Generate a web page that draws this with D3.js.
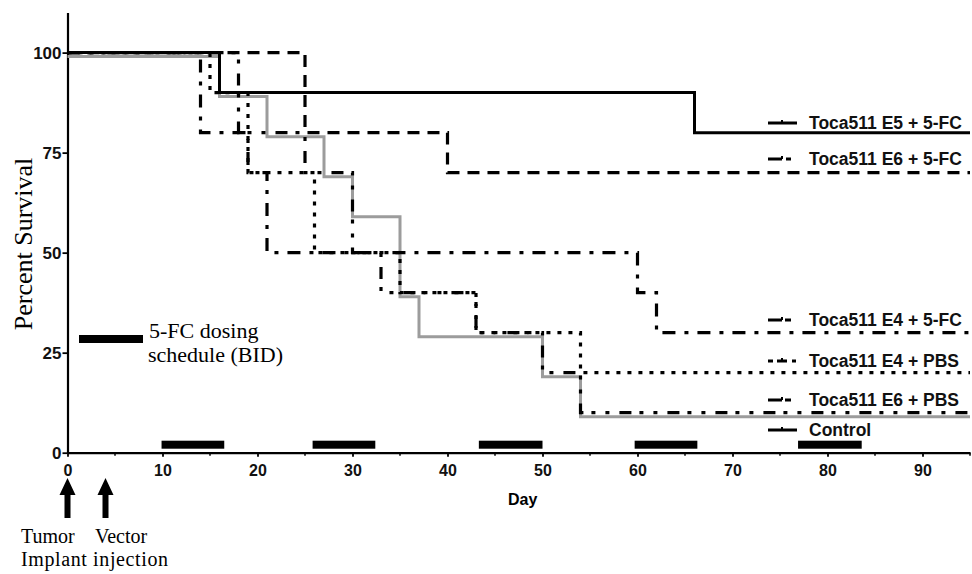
<!DOCTYPE html>
<html><head><meta charset="utf-8">
<script src="https://cdn.jsdelivr.net/npm/d3@7"></script>
<style>body{margin:0;background:#fff}svg{display:block}</style>
</head><body><svg id="c" width="972" height="574"></svg>
<script>
// ---- data ----
const seriesNames = ["Toca511 E5 + 5-FC","Toca511 E6 + 5-FC","Toca511 E4 + 5-FC","Toca511 E4 + PBS","Toca511 E6 + PBS","Control"];
const e5FcDays   = [0,16,66,95];
const e5FcVals   = [100,90,80,80];
const e6FcDays   = [0,25,40,95];
const e6FcVals   = [100,80,70,70];
const e4FcDays   = [0,14,19,21,60,62,95];
const e4FcVals   = [100,80,70,50,40,30,30];
const e4PbsDays  = [0,15,19,26,35,43,54,95];
const e4PbsVals  = [100,90,70,50,40,30,20,20];
const e6PbsDays  = [0,18,25,30,33,43,50,54,95];
const e6PbsVals  = [100,80,70,50,40,30,20,10,10];
const controlDays= [0,16,21,27,30,35,37,50,54,95];
const controlVals= [99,89,79,69,59,39,29,19,9,9];
const dosingStart = [9.9,25.8,43.3,59.7,76.9];
const dosingEnd   = [16.5,32.4,50,66.3,83.6];
const eventDays = [0,4];
const xTicks = [0,10,20,30,40,50,60,70,80,90];
const xMinorTicks = [5,15,25,35,45,55,65,75,85,95];
const yTicks = [0,25,50,75,100];

// ---- layout ----
const svg = d3.select("#c");
const x = d3.scaleLinear().domain([0,95]).range([67.5,970]);
const y = d3.scaleLinear().domain([0,110]).range([452.7,12.6]);
const sans = "'Liberation Sans', Arial, sans-serif";
const serif = "'Liberation Serif', 'Times New Roman', serif";

const styles = [
  {color:"#000", dash:null, w:3},
  {color:"#000", dash:"12,8", w:3.2},
  {color:"#000", dash:"13,9,4,9", w:3.2},
  {color:"#000", dash:"4,7", w:3.2},
  {color:"#000", dash:"12,8,4,10,4,10", w:3.2},
  {color:"#9c9c9c", dash:null, w:3}
];
const seriesDays = [e5FcDays,e6FcDays,e4FcDays,e4PbsDays,e6PbsDays,controlDays];
const seriesVals = [e5FcVals,e6FcVals,e4FcVals,e4PbsVals,e6PbsVals,controlVals];

// axes
const yAxis = d3.axisLeft(y).tickValues(yTicks).tickSize(5).tickSizeOuter(0).tickPadding(1);
const gy = svg.append("g").attr("transform","translate(67.5,0)").call(yAxis);
const xAxis = d3.axisBottom(x).tickValues(xTicks).tickSize(4).tickSizeOuter(0).tickPadding(8);
const gx = svg.append("g").attr("transform","translate(0,452.7)").call(xAxis);
gx.selectAll(".minor").data(xMinorTicks).enter().append("line")
  .attr("x1",d=>x(d)).attr("x2",d=>x(d)).attr("y1",0).attr("y2",3).attr("stroke","#000").attr("stroke-width",1.5);
[gx,gy].forEach(g=>{
  g.select(".domain").attr("stroke","#000").attr("stroke-width",2.2);
  g.selectAll(".tick line").attr("stroke","#000").attr("stroke-width",1.8);
  g.selectAll(".tick text").attr("font-family",sans).attr("font-weight","bold").attr("font-size",16).attr("fill","#111");
});
gy.selectAll(".tick text").attr("font-size",17);

// dosing bars
const barH = 8;
svg.append("g").selectAll("rect").data(dosingStart).enter().append("rect")
  .attr("x",(d)=>x(d)).attr("width",(d,i)=>x(dosingEnd[i])-x(d))
  .attr("y",y(0)-12).attr("height",barH).attr("fill","#000");

// curves (control first so it sits underneath)
const line = d3.line().x(d=>x(d[0])).y(d=>y(d[1])).curve(d3.curveStepAfter);
const order = [5,0,1,2,3,4];
order.forEach(i=>{
  const pts = seriesDays[i].map((d,j)=>[d,seriesVals[i][j]]);
  svg.append("path").attr("d",line(pts)).attr("fill","none")
    .attr("stroke",styles[i].color).attr("stroke-width",styles[i].w)
    .attr("stroke-dasharray",styles[i].dash).attr("stroke-linecap","butt");
});

// legend (right)
const legendY = [123,159,320,361,400,430];
const legendDash = [null,"14,4,5","14,3,6","5,4,10","14,3,6",null];
const lg = svg.append("g");
seriesNames.forEach((n,i)=>{
  lg.append("line").attr("x1",768).attr("x2",797).attr("y1",legendY[i]).attr("y2",legendY[i])
    .attr("stroke","#000").attr("stroke-width",3).attr("stroke-dasharray",legendDash[i]);
  lg.append("rect").attr("x",781).attr("y",legendY[i]-3).attr("width",2).attr("height",3).attr("fill","#000");
  lg.append("text").attr("x",809).attr("y",legendY[i]).attr("dy","0.36em")
    .attr("font-family",sans).attr("font-weight","bold").attr("font-size",17.5).attr("fill","#111").text(n);
});

// dosing legend
svg.append("rect").attr("x",79).attr("y",335).attr("width",64).attr("height",8).attr("fill","#000");
svg.append("text").attr("x",149).attr("y",338).attr("font-family",serif).attr("font-size",22).text("5-FC dosing");
svg.append("text").attr("x",148).attr("y",362).attr("font-family",serif).attr("font-size",22).text("schedule (BID)");

// axis titles
svg.append("text").attr("transform","translate(32,244) rotate(-90)").attr("text-anchor","middle")
  .attr("font-family",serif).attr("font-size",26).text("Percent Survival");
svg.append("text").attr("x",(x(0)+x(95))/2+4).attr("y",505).attr("text-anchor","middle")
  .attr("font-family",sans).attr("font-weight","bold").attr("font-size",16).text("Day");

// event arrows
eventDays.forEach(d=>{
  const cx = x(d);
  svg.append("path").attr("d",`M${cx},478 L${cx+8},495 L${cx+3},495 L${cx+3},518 L${cx-3},518 L${cx-3},495 L${cx-8},495 Z`).attr("fill","#000");
});
const evFont = 20;
svg.append("text").attr("x",21).attr("y",543).attr("font-family",serif).attr("font-size",evFont).text("Tumor");
svg.append("text").attr("x",95).attr("y",543).attr("font-family",serif).attr("font-size",evFont).text("Vector");
svg.append("text").attr("x",21).attr("y",566).attr("font-family",serif).attr("font-size",evFont)
  .attr("textLength",147).attr("lengthAdjust","spacing").text("Implant injection");
</script></body></html>
